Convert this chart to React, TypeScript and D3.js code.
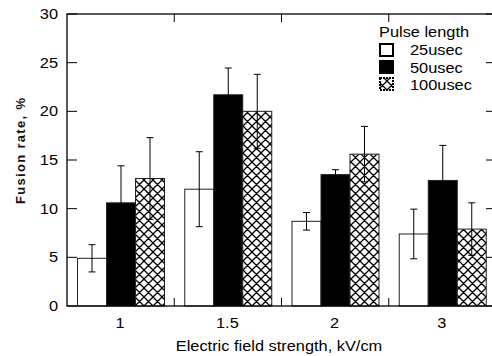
import React from "react";
import * as d3 from "d3";

// field strengths (kV/cm) and pulse lengths
const categories = ["1", "1.5", "2", "3"];
const series = ["25usec", "50usec", "100usec"];

// fusion rate (%) and error per pulse length
const values25 = [4.9, 12.0, 8.7, 7.4];
const err25 = [1.4, 3.85, 0.9, 2.55];
const values50 = [10.6, 21.7, 13.5, 12.9];
const err50 = [3.8, 2.75, 0.5, 3.6];
const values100 = [13.1, 20.0, 15.6, 7.9];
const err100 = [4.2, 3.8, 2.85, 2.7];

const yTicks = [0, 5, 10, 15, 20, 25, 30];

const W = 492;
const H = 356;
const left = 67;
const right = 496;
const top = 14;
const bottom = 306;
const SX = 1.17; // text in the original is stretched sideways

const App = () => {
  const x = d3.scaleBand().domain(categories).range([left, right]).padding(0);
  const inner = d3.scaleBand().domain(series).range([10.5, 97.5]).padding(0);
  const y = d3.scaleLinear().domain([0, 30]).range([bottom, top]);

  const rows = [values25, values50, values100];
  const errs = [err25, err50, err100];
  const fills = ["#ffffff", "#000000", "url(#xhatch)"];

  const bars = categories.flatMap((c, i) =>
    series.map((s, j) => ({ c, s, j, v: rows[j][i], e: errs[j][i] }))
  );

  const font = "'Liberation Sans', Arial, sans-serif";
  const txt = (x0: number, y0: number, anchor: string, t: string, size = 14, key?: string) => (
    <text
      key={key}
      transform={`translate(${x0},${y0}) scale(${SX},1)`}
      textAnchor={anchor}
      fontSize={size}
      fontFamily={font}
      fill="#000"
    >
      {t}
    </text>
  );

  const bounds = categories.slice(1).map((c) => x(c)!);

  return (
    <svg
      width={W}
      height={H}
      style={{ position: "absolute", left: 0, top: 0, background: "#fff" }}
    >
      <defs>
        <pattern id="xhatch" patternUnits="userSpaceOnUse" width={9} height={9}>
          <rect width={9} height={9} fill="#fff" />
          <path d="M0,0L9,9M9,0L0,9M-1,8L1,10M8,-1L10,1M-1,1L1,-1M8,10L10,8" stroke="#000" strokeWidth={1.3} />
        </pattern>
      </defs>

      {/* bars */}
      {bars.map((b) => (
        <rect
          key={`${b.c}-${b.s}`}
          x={x(b.c)! + inner(b.s)!}
          y={y(b.v)}
          width={inner.bandwidth()}
          height={y(0) - y(b.v)}
          fill={fills[b.j]}
          stroke="#222"
          strokeWidth={1}
        />
      ))}

      {/* error bars */}
      {bars.map((b) => {
        const cx = x(b.c)! + inner(b.s)! + inner.bandwidth() / 2;
        const y1 = y(b.v + b.e);
        const y2 = y(b.v - b.e);
        return (
          <g key={`e-${b.c}-${b.s}`} stroke="#000" strokeWidth={1}>
            <line x1={cx} x2={cx} y1={y1} y2={y2} />
            <line x1={cx - 3.5} x2={cx + 3.5} y1={y1} y2={y1} />
            <line x1={cx - 3.5} x2={cx + 3.5} y1={y2} y2={y2} />
          </g>
        );
      })}

      {/* frame */}
      <rect x={left} y={top} width={right - left} height={bottom - top} fill="none" stroke="#000" strokeWidth={1.3} />

      {/* y ticks, both sides pointing in */}
      {yTicks.map((t) => (
        <g key={`yt-${t}`} stroke="#000" strokeWidth={1}>
          <line x1={left} x2={left + 10} y1={y(t)} y2={y(t)} />
          <line x1={right - 10} x2={right} y1={y(t)} y2={y(t)} />
        </g>
      ))}
      {yTicks.map((t) => txt(58, y(t) + 5, "end", String(t), 14, `yl-${t}`))}

      {/* x ticks at group boundaries */}
      {bounds.map((bx, i) => (
        <g key={`xt-${i}`} stroke="#000" strokeWidth={1}>
          <line x1={bx} x2={bx} y1={top} y2={top + 8} />
          <line x1={bx} x2={bx} y1={bottom} y2={bottom - 8} />
        </g>
      ))}
      {categories.map((c) => txt(x(c)! + x.bandwidth() / 2 - 0.5, 328, "middle", c, 14, `xl-${c}`))}

      {/* axis titles */}
      {txt(279, 351, "middle", "Electric field strength, kV/cm", 14)}
      <text
        transform="translate(25,151) rotate(-90)"
        textAnchor="middle"
        fontSize={13}
        fontWeight="bold"
        fontFamily={font}
        textLength={106}
        lengthAdjust="spacing"
        fill="#111"
      >
        Fusion rate, %
      </text>

      {/* legend */}
      {txt(379, 37, "start", "Pulse length", 14)}
      {series.map((s, j) => (
        <g key={`lg-${s}`}>
          <rect
            x={380}
            y={44 + j * 17}
            width={13}
            height={12}
            fill={fills[j]}
            stroke="#000"
            strokeWidth={2}
            strokeDasharray={j === 2 ? "2,1" : undefined}
          />
          {txt(410, 55 + j * 17.5, "start", s, 14)}
        </g>
      ))}
    </svg>
  );
};

export default App;
